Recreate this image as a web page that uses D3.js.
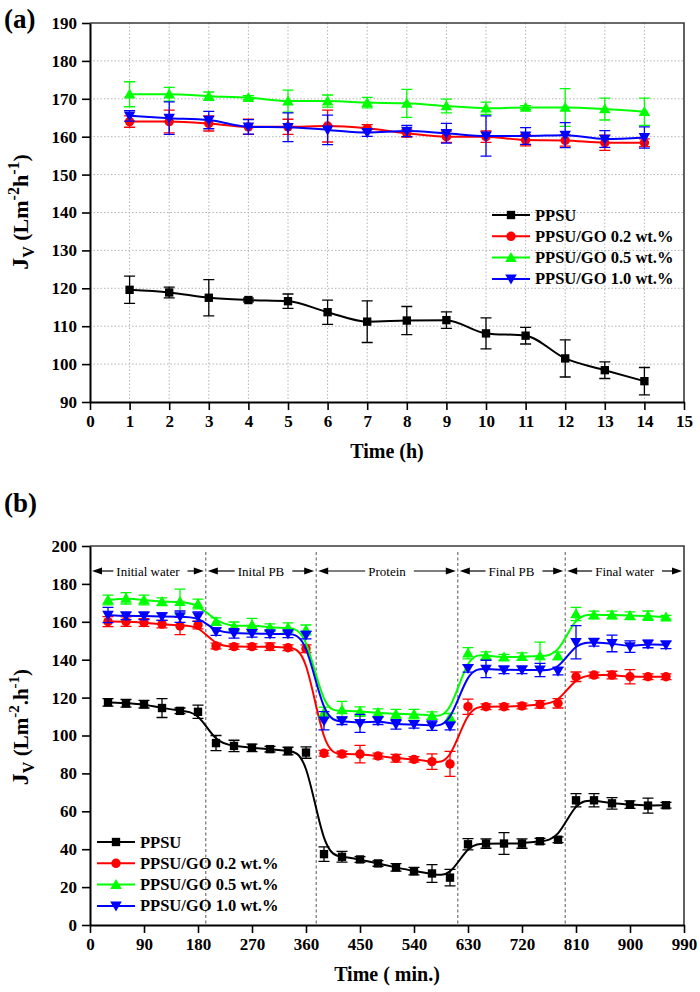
<!DOCTYPE html>
<html lang="en">
<head>
  <meta charset="UTF-8" />
  <title>PPSU / GO flux</title>
  <script src="https://cdnjs.cloudflare.com/ajax/libs/d3/7.8.5/d3.min.js"></script>
  <style>
    body { margin: 0; background: #fff; }
    svg { display: block; font-family: "Liberation Serif", "Times New Roman", serif; }
    .tick text { font-weight: bold; font-size: 17px; }
  </style>
</head>
<body>
  <svg id="chart" width="700" height="992"></svg>
  <script>
    // ---- Panel (a): pure water flux vs time (h) ----
    var hours = [1, 2, 3, 4, 5, 6, 7, 8, 9, 10, 11, 12, 13, 14];
    var ppsuA    = [119.6, 118.9, 117.5, 116.9, 116.6, 113.7, 111.2, 111.5, 111.6, 108.1, 107.5, 101.5, 98.4, 95.5];
    var ppsuAErr = [3.6, 1.4, 4.8, 0.5, 1.9, 3.2, 5.5, 3.7, 2.2, 4.1, 2.2, 4.9, 2.2, 3.6];
    var go02A    = [164.0, 164.0, 163.5, 162.6, 162.6, 162.8, 162.2, 160.9, 160.0, 160.0, 159.1, 159.0, 158.4, 158.4];
    var go02AErr = [1.5, 3, 2, 2, 2, 4.2, 1, 1, 1.5, 1.5, 1.5, 1.5, 2, 1];
    var go05A    = [171.2, 171.2, 170.7, 170.3, 169.4, 169.4, 169.0, 168.8, 168.1, 167.5, 167.7, 167.7, 167.3, 166.6];
    var go05AErr = [3.3, 1.8, 1.1, 0.5, 2.9, 1.6, 1.4, 3.7, 1.8, 1.6, 0.5, 5, 2.9, 3.6];
    var go10A    = [165.5, 164.9, 164.4, 162.6, 162.5, 161.8, 161.1, 161.5, 160.9, 160.2, 160.2, 160.4, 159.4, 159.8];
    var go10AErr = [1.4, 4.3, 2.3, 1.9, 3.8, 3.9, 1, 1.5, 2.6, 5.3, 2.2, 3.3, 2.2, 2.8];

    // ---- Panel (b): fouling test vs time (min) ----
    var minutes = [30, 60, 90, 120, 150, 180,
                   210, 240, 270, 300, 330, 360,
                   390, 420, 450, 480, 510, 540, 570, 600,
                   630, 660, 690, 720, 750, 780,
                   810, 840, 870, 900, 930, 960];
    var ppsuB    = [117.5, 117, 116.5, 114.5, 113, 112.5,
                    96, 94.5, 93.5, 92.8, 91.8, 91,
                    37.4, 36, 34.6, 32.5, 30.4, 28.4, 27.2, 25,
                    42.6, 43, 43, 43, 44.2, 45,
                    65.8, 65.8, 64.2, 63.5, 63, 63.2];
    var ppsuBErr = [2, 2, 2, 5, 1.5, 3.5,
                    4, 3, 2, 1.5, 2, 3,
                    3.8, 2.8, 1.5, 1.5, 2, 2, 4.7, 4.4,
                    3, 2.5, 5.7, 2.5, 1.5, 1.5,
                    3.5, 3.5, 3, 2, 4, 1.5];
    var go02B    = [160.1, 160.1, 159.6, 158.8, 157.8, 158.3,
                    147.2, 146.9, 146.9, 146.9, 146.3, 145.8,
                    90.6, 90.2, 90.2, 89.2, 88, 87.4, 86.2, 85,
                    115.2, 115.2, 115.2, 115.6, 116.4, 117,
                    131, 131.9, 131.9, 131, 131, 131];
    var go02BErr = [2.6, 2.5, 2, 2, 4.6, 2,
                    1.5, 1.5, 1.5, 2, 1.5, 2,
                    1.5, 1.5, 4.6, 1.5, 2, 1.5, 4.1, 6.6,
                    4, 1.5, 1.5, 1.5, 2, 2.5,
                    2.5, 1.5, 2, 3.8, 1.5, 1.5];
    var go05B    = [171.5, 172.4, 171.5, 170.6, 170.6, 169.4,
                    160.1, 157.4, 158.3, 156.9, 156.9, 155.7,
                    112, 113.5, 112.6, 112, 111.3, 111.3, 110.5, 109.6,
                    143.4, 142.1, 141.3, 141.6, 142, 142,
                    164.1, 163.6, 163.6, 163.2, 163.2, 162.4];
    var go05BErr = [2.6, 3, 2.6, 2, 6.6, 2.6,
                    2, 2.5, 3.5, 2, 2.5, 2.6,
                    3, 4.5, 2.5, 2, 2.5, 2.5, 2, 2,
                    3, 2, 1.5, 2, 7.3, 2,
                    3.5, 2, 2, 2, 2.5, 1];
    var go10B    = [163.6, 163.1, 163.1, 162.7, 162.7, 162.7,
                    154.8, 153.9, 153.9, 153.6, 153.6, 153,
                    107.8, 107.8, 106.4, 107.8, 105.9, 105.9, 105.2, 105,
                    135.4, 135.1, 134.6, 134.6, 134.6, 134,
                    149.2, 149.2, 148.6, 146.9, 148.3, 147.8];
    var go10BErr = [4, 2, 2, 2, 3, 2.5,
                    2, 2.5, 2, 2, 2, 2,
                    4.8, 2, 4.8, 2, 2.5, 2, 2.5, 2,
                    2, 4.6, 2, 2, 3.5, 2,
                    8.8, 2, 4.4, 3, 2, 2];

    var seriesNames = ["PPSU", "PPSU/GO 0.2 wt.%", "PPSU/GO 0.5 wt.%", "PPSU/GO 1.0 wt.%"];
    var seriesColors = ["#000000", "#ff0000", "#00ff00", "#0000ff"];

    // phase boundaries (min) and labels for panel (b)
    var phaseBounds = [0, 193, 377, 613, 792, 990];
    var phaseLabels = ["Initial water", "Inital PB", "Protein", "Final PB", "Final water"];

    var svg = d3.select("#chart");

    // marker generators: square, circle, up triangle, down triangle
    var symbolTypes = [d3.symbolSquare, d3.symbolCircle, d3.symbolTriangle, d3.symbolTriangle];
    var symbolSizes = [70, 70, 58, 58];
    function drawMarker(g, i, cx, cy) {
      var p = g.append("path")
        .attr("d", d3.symbol().type(symbolTypes[i]).size(symbolSizes[i])())
        .attr("fill", seriesColors[i]);
      if (i === 3) p.attr("transform", "translate(" + cx + "," + (cy - 1) + ") rotate(180)");
      else if (i === 2) p.attr("transform", "translate(" + cx + "," + (cy + 1) + ")");
      else p.attr("transform", "translate(" + cx + "," + cy + ")");
    }

    function drawPanel(cfg) {
      var x = d3.scaleLinear().domain(cfg.xDomain).range([90, 684]);
      var y = d3.scaleLinear().domain(cfg.yDomain).range([cfg.bottom, cfg.top]);
      var g = svg.append("g");

      // grid (panel a only)
      if (cfg.grid) {
        g.selectAll(".vg").data(cfg.xTicks.slice(1, -1)).enter().append("line")
          .attr("x1", d => x(d)).attr("x2", d => x(d))
          .attr("y1", cfg.top).attr("y2", cfg.bottom)
          .attr("stroke", "#b4b4b4").attr("stroke-width", 1).attr("stroke-dasharray", "1.5,2");
        g.selectAll(".hg").data(cfg.yTicks.slice(1, -1)).enter().append("line")
          .attr("x1", 90).attr("x2", 684)
          .attr("y1", d => y(d)).attr("y2", d => y(d))
          .attr("stroke", "#b4b4b4").attr("stroke-width", 1).attr("stroke-dasharray", "1.5,2");
      }

      // phase separators + arrows (panel b only)
      if (cfg.phases) {
        g.selectAll(".sep").data(phaseBounds.slice(1, -1)).enter().append("line")
          .attr("x1", d => x(d)).attr("x2", d => x(d))
          .attr("y1", cfg.top + 6).attr("y2", cfg.bottom)
          .attr("stroke", "#555").attr("stroke-width", 1).attr("stroke-dasharray", "3,2.5");
        var ay = 571;
        phaseLabels.forEach(function(lab, k) {
          var xa = x(phaseBounds[k]) + 2, xb = x(phaseBounds[k + 1]) - 2;
          var xm = (xa + xb) / 2;
          var t = g.append("text").attr("x", xm).attr("y", ay + 4.5)
            .attr("text-anchor", "middle").attr("font-size", "13px").text(lab);
          var tw = t.node().getComputedTextLength();
          g.append("line").attr("x1", xa + 6).attr("x2", xm - tw / 2 - 3)
            .attr("y1", ay).attr("y2", ay).attr("stroke", "#000").attr("stroke-width", 1.2);
          g.append("line").attr("x1", xm + tw / 2 + 8).attr("x2", xb - 6)
            .attr("y1", ay).attr("y2", ay).attr("stroke", "#000").attr("stroke-width", 1.2);
          g.append("path").attr("d", "M" + xa + "," + ay + "l10,-3.5v7z").attr("fill", "#000");
          g.append("path").attr("d", "M" + xb + "," + ay + "l-10,-3.5v7z").attr("fill", "#000");
        });
      }

      // top / right frame
      g.append("path")
        .attr("d", "M90," + cfg.top + "H684V" + cfg.bottom)
        .attr("fill", "none").attr("stroke", "#3a3a3a").attr("stroke-width", 1.6);

      // axes
      var ax = g.append("g").attr("transform", "translate(0," + cfg.bottom + ")")
        .call(d3.axisBottom(x).tickValues(cfg.xTicks).tickSize(8).tickSizeOuter(0).tickPadding(5));
      var ayx = g.append("g").attr("transform", "translate(90,0)")
        .call(d3.axisLeft(y).tickValues(cfg.yTicks).tickSize(8).tickSizeOuter(0).tickPadding(5));
      [ax, ayx].forEach(function(a) {
        a.attr("font-family", null).attr("font-size", null);
        a.select(".domain").attr("stroke-width", 2);
        a.selectAll(".tick line").attr("stroke-width", 1.6);
        a.selectAll(".tick text").attr("fill", "#000");
      });

      // series
      cfg.values.forEach(function(vals, i) {
        var errs = cfg.errors[i];
        var sg = g.append("g");
        var pts = cfg.xs.map((t, j) => ({ t: t, v: vals[j], e: errs[j] }));
        // error bars
        pts.forEach(function(d) {
          var cx = x(d.t);
          sg.append("path")
            .attr("d", "M" + cx + "," + y(d.v - d.e) + "V" + y(d.v + d.e) +
                       "M" + (cx - 5.5) + "," + y(d.v - d.e) + "h11" +
                       "M" + (cx - 5.5) + "," + y(d.v + d.e) + "h11")
            .attr("stroke", seriesColors[i]).attr("stroke-width", 1.3).attr("fill", "none");
        });
        var line = d3.line().x(d => x(d.t)).y(d => y(d.v)).curve(cfg.curve);
        sg.append("path").datum(pts).attr("d", line)
          .attr("fill", "none").attr("stroke", seriesColors[i]).attr("stroke-width", 2);
        pts.forEach(d => drawMarker(sg, i, x(d.t), y(d.v)));
      });

      // legend
      seriesNames.forEach(function(name, i) {
        var ly = cfg.legendY + i * 21.3, lx = cfg.legendX;
        g.append("line").attr("x1", lx).attr("x2", lx + 38).attr("y1", ly).attr("y2", ly)
          .attr("stroke", seriesColors[i]).attr("stroke-width", 2);
        drawMarker(g, i, lx + 19, ly);
        g.append("text").attr("x", lx + 43).attr("y", ly + 5.5)
          .attr("font-size", "16.5px").attr("font-weight", "bold").text(name);
      });

      // axis titles
      svg.append("text").attr("x", 387).attr("y", cfg.bottom + 56)
        .attr("text-anchor", "middle").attr("font-size", "20px").attr("font-weight", "bold")
        .text(cfg.xTitle);
      var yt = svg.append("text")
        .attr("transform", "translate(28," + cfg.yTitleMid + ") rotate(-90)")
        .attr("text-anchor", "middle").attr("font-weight", "bold");
      cfg.yTitleParts.forEach(function(p) {
        yt.append("tspan").attr("font-size", p[1] + "px").attr("dy", p[2]).text(p[0]);
      });

      // panel letter
      svg.append("text").attr("x", 4).attr("y", cfg.letterY)
        .attr("font-size", "27px").attr("font-weight", "bold").text(cfg.letter);
    }

    drawPanel({
      xDomain: [0, 15], yDomain: [90, 190], top: 23, bottom: 402,
      xTicks: d3.range(0, 16), yTicks: d3.range(90, 191, 10),
      grid: true, phases: false, curve: d3.curveMonotoneX,
      xs: hours,
      values: [ppsuA, go02A, go05A, go10A],
      errors: [ppsuAErr, go02AErr, go05AErr, go10AErr],
      legendX: 492, legendY: 215,
      xTitle: "Time (h)",
      yTitleMid: 212,
      yTitleParts: [["J", 24, 0], ["V", 16, 6], [" (Lm", 22, -6], ["-2", 16, -9], ["h", 22, 9], ["-1", 16, -9], [")", 22, 9]],
      letter: "(a)", letterY: 28
    });

    drawPanel({
      xDomain: [0, 990], yDomain: [0, 200], top: 546, bottom: 925,
      xTicks: d3.range(0, 991, 90), yTicks: d3.range(0, 201, 20),
      grid: false, phases: true, curve: d3.curveBasis,
      xs: minutes,
      values: [ppsuB, go02B, go05B, go10B],
      errors: [ppsuBErr, go02BErr, go05BErr, go10BErr],
      legendX: 97, legendY: 842,
      xTitle: "Time ( min.)",
      yTitleMid: 727,
      yTitleParts: [["J", 24, 0], ["V", 16, 6], [" (Lm", 21, -6], ["-2", 15, -9], [".h", 21, 9], ["-1", 15, -9], [")", 21, 9]],
      letter: "(b)", letterY: 512
    });
  </script>
</body>
</html>
